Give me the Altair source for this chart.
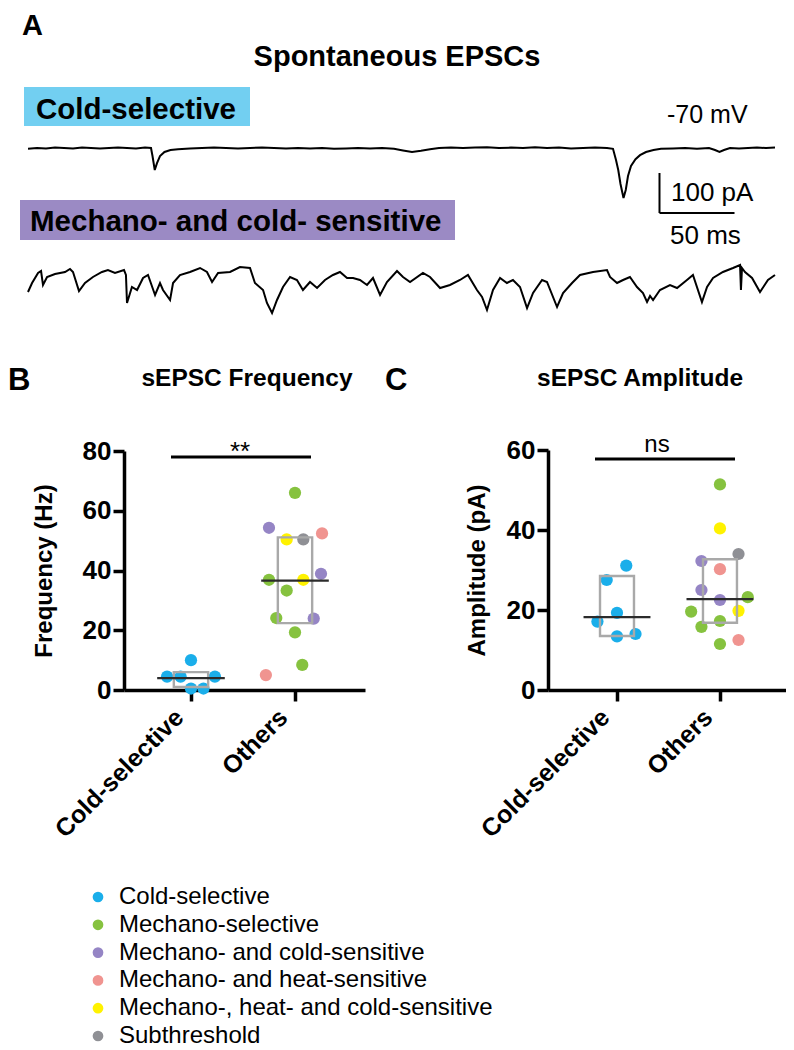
import altair as alt
import pandas as pd

FONT = "Liberation Sans"

# ---------------- data ----------------
cell_types = ["Cold-selective", "Mechano-selective", "Mechano- and cold-sensitive",
              "Mechano- and heat-sensitive", "Mechano-, heat- and cold-sensitive", "Subthreshold"]
type_colors = ["#1aaeea", "#86c23f", "#9585c5", "#f09490", "#fff200", "#8f9095"]
groups = ["Cold-selective", "Others"]

# Panel A traces (time in ms, current in pA)
trace1_t = [0, 6, 12, 18, 24, 30, 36, 42, 48, 54, 60, 66, 72, 78, 82, 83, 84.5, 86, 88, 91,
            95, 100, 108, 116, 124, 132, 140, 148, 156, 164, 172, 180, 188, 196, 204, 212, 220, 228, 236, 244,
            250, 256, 262, 268, 274, 282, 290, 298, 306, 314, 322, 330, 338, 346, 354, 362, 370, 378, 386, 390,
            392, 393.5, 395, 397, 398.5, 400, 402, 405, 408, 412, 417, 422, 430, 438, 446, 454, 458, 461, 464, 468,
            474, 480, 486, 492, 498]
trace1_v = [-2, 0, -1, 1, 0, -1, 1, 0, -1, 0, 1, 0, -1, 1, 0, -20, -55, -38, -20, -10,
            -5, -3, -1, 0, 1, 0, -1, 0, 1, 0, -1, 0, -1, 0, -2, -1, 0, -1, 0, -2,
            -6, -10, -7, -3, 0, 1, 0, 1, 2, 0, 1, 0, 2, 0, 1, -1, 0, 1, 0, -2,
            -30, -55, -90, -125, -105, -70, -45, -28, -18, -10, -5, -2, -1, 0, -2, 0, -5, -10, -5, 0,
            -1, 0, 1, 0, 1]
trace2_t = [0, 2.7, 6.7, 8.7, 10, 12.7, 18, 24.7, 28, 30,
            34, 38, 43.3, 49.3, 53.3, 58, 64, 65.3, 66, 69.3,
            72.7, 76.7, 80, 84.7, 88, 90, 94.7, 96.7, 101.3, 108,
            114.7, 119.3, 122.7, 126.7, 134.7, 141.3, 148, 151.3, 156.7, 159.3,
            162.7, 166, 170, 174.7, 179.3, 183.3, 188, 192.7, 198, 203.3,
            208, 212.7, 216.7, 221.3, 226, 230, 234.7, 239.3, 246, 250,
            254.7, 263.3, 268, 274.7, 281.3, 288, 293.3, 299.3, 302.7, 306,
            310, 314.7, 319.3, 323.3, 328, 332.7, 336.7, 342.7, 346, 352.7,
            356.7, 362.7, 368, 376.7, 386, 388, 392.7, 396.7, 401.3, 406,
            410, 412.7, 414.7, 416.7, 421.3, 428, 432.7, 439.3, 443.3, 449.3,
            452.7, 456.7, 463.3, 470, 474.7, 475.3, 476, 478, 482.7, 488,
            493.3, 498]
trace2_v = [-55, -32.5, -7.5, -2.5, -37.5, -17.5, -10, -5, 2.5, -5,
            -52.5, -32.5, -17.5, -5, 0, -7.5, 0, -12.5, -82.5, -42.5,
            -50, -20, -12.5, -62.5, -32.5, -50, -75, -32.5, -12.5, -5,
            5, -5, -30, -7.5, -5, 7.5, 5, -32.5, -50, -82.5,
            -107.5, -75, -42.5, -17.5, -25, -50, -30, -45, -25, -12.5,
            -5, -20, -20, -25, -37.5, -20, -62.5, -30, -2.5, -17.5,
            -30, -7.5, -17.5, -45, -37.5, -25, -12.5, -50, -67.5, -100,
            -50, -20, -32.5, -25, -42.5, -95, -57.5, -25, -30, -92.5,
            -57.5, -32.5, -12.5, -5, 0, -17.5, -32.5, -25, -17.5, -42.5,
            -57.5, -80, -65, -75, -50, -37.5, -45, -25, -12.5, -80,
            -42.5, -20, -5, 5, 12.5, -50, 5, -5, -20, -55,
            -25, -12.5]
scalebar_t = [421]      # start of scale bar (ms)
scalebar_v = [-62.5]    # top of scale bar (pA)
scalebar_ms = [50]
scalebar_pA = [100]

# Panel B: sEPSC frequency (Hz)
freq_group = ["Cold-selective", "Cold-selective", "Cold-selective", "Cold-selective", "Cold-selective",
              "Cold-selective", "Others", "Others", "Others", "Others", "Others", "Others", "Others",
              "Others", "Others", "Others", "Others", "Others", "Others", "Others"]
freq_value = [10, 4.5, 4.5, 4.5, 0.5, 0.5,
              66, 54.3, 52.4, 50.4, 50.4, 38.9, 36.9, 36.9, 33.3, 24.1, 23.9, 19.3, 8.4, 5]
freq_type = ["Cold-selective"] * 6 + [
    "Mechano-selective", "Mechano- and cold-sensitive", "Mechano- and heat-sensitive",
    "Mechano-, heat- and cold-sensitive", "Subthreshold", "Mechano- and cold-sensitive",
    "Mechano-selective", "Mechano-, heat- and cold-sensitive", "Mechano-selective",
    "Mechano-selective", "Mechano- and cold-sensitive", "Mechano-selective",
    "Mechano-selective", "Mechano- and heat-sensitive"]
freq_jitter = [0, -0.23, -0.1, 0.23, 0, 0.12,
               0, -0.25, 0.26, -0.08, 0.08, 0.25, -0.25, 0.08, -0.08, -0.18, 0.18, 0, 0.07, -0.28]
freq_q1 = [1, 22.4]
freq_q3 = [6, 51.1]
freq_median = [4, 36.6]

# Panel C: sEPSC amplitude (pA)
amp_group = freq_group
amp_value = [31.1, 27.5, 19.3, 17.1, 13.4, 14.0,
             51.4, 40.4, 34, 32.25, 30.2, 25, 22.5, 23.2, 19.6, 19.8, 17.25, 15.8, 11.5, 12.5]
amp_type = ["Cold-selective"] * 6 + [
    "Mechano-selective", "Mechano-, heat- and cold-sensitive", "Subthreshold",
    "Mechano- and cold-sensitive", "Mechano- and heat-sensitive", "Mechano- and cold-sensitive",
    "Mechano- and cold-sensitive", "Mechano-selective", "Mechano-selective",
    "Mechano-, heat- and cold-sensitive", "Mechano-selective", "Mechano-selective",
    "Mechano-selective", "Mechano- and heat-sensitive"]
amp_jitter = [0.09, -0.1, 0, -0.19, 0, 0.18,
              0, 0, 0.18, -0.18, 0, -0.18, 0, 0.27, -0.28, 0.18, 0, -0.18, 0, 0.18]
amp_q1 = [13.5, 16.8]
amp_q3 = [28.5, 32.7]
amp_median = [18.2, 22.7]

# ---------------- tables ----------------
trace1_df = pd.DataFrame({"t": trace1_t, "v": trace1_v})
trace2_df = pd.DataFrame({"t": trace2_t, "v": trace2_v})
bar_df = pd.DataFrame({"t": scalebar_t, "v": scalebar_v, "ms": scalebar_ms, "pA": scalebar_pA})

def points_df(g, v, ty, j):
    return pd.DataFrame({"gi": [groups.index(x) for x in g], "value": v, "type": ty, "jitter": j})

def summary_df(q1, q3, med):
    return pd.DataFrame({"gi": list(range(len(groups))), "q1": q1, "q3": q3, "median": med})

freq_pts = points_df(freq_group, freq_value, freq_type, freq_jitter)
amp_pts = points_df(amp_group, amp_value, amp_type, amp_jitter)
freq_sum = summary_df(freq_q1, freq_q3, freq_median)
amp_sum = summary_df(amp_q1, amp_q3, amp_median)

# ---------------- styling / helpers ----------------
W, H = 778, 1042
BOX_HALF = 0.165
MED_HALF = 0.325
one = alt.Data(values=[{}])

def text(txt, x, y, size, weight="normal", align="left", baseline="alphabetic"):
    return alt.Chart(one).mark_text(text=txt, font=FONT, fontSize=size, fontWeight=weight,
                                    align=align, baseline=baseline, color="black").encode(
        x=alt.value(x), y=alt.value(y))

def box(x1, x2, y1, y2, color):
    return alt.Chart(one).mark_rect(color=color).encode(
        x=alt.value(x1), x2=alt.value(x2), y=alt.value(y1), y2=alt.value(y2))

def hrule(x1, x2, y, w=3):
    return alt.Chart(one).mark_rule(color="black", strokeWidth=w).encode(
        x=alt.value(x1), x2=alt.value(x2), y=alt.value(y))

color_scale = alt.Scale(domain=cell_types, range=type_colors)
legend = alt.Legend(orient="none", legendX=78, legendY=877, title=None, labelFont=FONT,
                    labelFontSize=24, labelColor="black", symbolType="circle", symbolSize=115,
                    symbolStrokeWidth=0, symbolOpacity=1, rowPadding=3.8, labelOffset=9,
                    padding=0, labelLimit=0)

label_expr = "datum.value == 0 ? '%s' : '%s'" % (groups[0], groups[1])

def axis_common():
    return dict(grid=False, domainColor="black", domainWidth=3.5, tickColor="black", tickWidth=3.5,
                labelFont=FONT, labelFontWeight="bold", labelColor="black",
                titleFont=FONT, titleFontSize=24, titleFontWeight="bold", titleColor="black")

def scatter_panel(pts, summ, xdom, xrange, ydom, yrange, yvals, ytitle, yoffset, tpad):
    xs = alt.Scale(domain=xdom, range=xrange, nice=False, zero=False)
    ys = alt.Scale(domain=ydom, range=yrange, nice=False, zero=False)
    xaxis = alt.Axis(orient="bottom", offset=682 - H, values=[0, 1], labelExpr=label_expr,
                     labelAngle=-45, labelAlign="right", labelBaseline="middle", labelFontSize=25,
                     title=None, tickSize=11, labelPadding=12, labelOffset=-12, labelFlush=False,
                     labelLimit=400, **axis_common())
    yaxis = alt.Axis(orient="left", offset=yoffset, values=yvals, title=ytitle, tickSize=11,
                     labelFontSize=26, labelPadding=2, titlePadding=tpad, **axis_common())
    pts_layer = alt.Chart(pts).transform_calculate(pos="datum.gi + datum.jitter").mark_circle(
        size=150, opacity=1).encode(
        x=alt.X("pos:Q", scale=xs, axis=xaxis),
        y=alt.Y("value:Q", scale=ys, axis=yaxis),
        color=alt.Color("type:N", scale=color_scale, legend=legend))
    box_layer = alt.Chart(summ).transform_calculate(
        x0="datum.gi - %f" % BOX_HALF, x1="datum.gi + %f" % BOX_HALF).mark_rect(
        fillOpacity=0, stroke="#a9a9a9", strokeWidth=2.4).encode(
        x=alt.X("x0:Q", scale=xs, axis=None), x2="x1:Q",
        y=alt.Y("q1:Q", scale=ys, axis=None), y2="q3:Q")
    med_layer = alt.Chart(summ).transform_calculate(
        x0="datum.gi - %f" % MED_HALF, x1="datum.gi + %f" % MED_HALF).mark_rule(
        color="#2b2b2b", strokeWidth=2.2).encode(
        x=alt.X("x0:Q", scale=xs, axis=None), x2="x1:Q",
        y=alt.Y("median:Q", scale=ys, axis=None))
    return [pts_layer, box_layer, med_layer]

# ---------------- panel A ----------------
xt = alt.Scale(domain=[0, 498], range=[20, 767], nice=False, zero=False)
yt1 = alt.Scale(domain=[-150, 50], range=[200, 120], nice=False, zero=False)
yt2 = alt.Scale(domain=[-150, 50], range=[322, 242], nice=False, zero=False)

trace1 = alt.Chart(trace1_df).mark_line(color="black", strokeWidth=2).encode(
    x=alt.X("t:Q", scale=xt, axis=None), y=alt.Y("v:Q", scale=yt1, axis=None))
trace2 = alt.Chart(trace2_df).mark_line(color="black", strokeWidth=2).encode(
    x=alt.X("t:Q", scale=xt, axis=None), y=alt.Y("v:Q", scale=yt2, axis=None))
bar_vert = alt.Chart(bar_df).transform_calculate(v2="datum.v - datum.pA").mark_rule(
    color="black", strokeWidth=2).encode(
    x=alt.X("t:Q", scale=xt, axis=None), y=alt.Y("v:Q", scale=yt1, axis=None), y2="v2:Q")
bar_horiz = alt.Chart(bar_df).transform_calculate(
    t2="datum.t + datum.ms", vb="datum.v - datum.pA").mark_rule(
    color="black", strokeWidth=2).encode(
    x=alt.X("t:Q", scale=xt, axis=None), x2="t2:Q", y=alt.Y("vb:Q", scale=yt1, axis=None))

layers = [
    text("A", 14, 27, 29, "bold"),
    text("Spontaneous EPSCs", 389, 58, 29, "bold", align="center"),
    box(16, 242, 79, 118, "#72cff1"),
    text("Cold-selective", 28, 111, 29.5, "bold"),
    text("-70 mV", 659, 115, 25),
    trace1, bar_vert, bar_horiz,
    text("100 pA", 663, 193, 26),
    text("50 ms", 662, 236, 26),
    box(12, 447, 192, 232, "#9b8ac4"),
    text("Mechano- and cold- sensitive", 22, 223, 29.5, "bold"),
    trace2,
    # panel B / C headings
    text("B", 0, 382, 31, "bold"),
    text("sEPSC Frequency", 239, 378, 24.5, "bold", align="center"),
    text("C", 377, 382, 31, "bold"),
    text("sEPSC Amplitude", 632, 378, 24.5, "bold", align="center"),
    hrule(163, 303, 449),
    text("**", 232, 452, 26, align="center"),
    hrule(587, 727, 451),
    text("ns", 649, 444, 24, align="center"),
]
layers += scatter_panel(freq_pts, freq_sum, [-0.644, 1.673], [116, 357], [0, 80], [682, 443],
                        [0, 20, 40, 60, 80], "Frequency (Hz)", -116, 26)
layers += scatter_panel(amp_pts, amp_sum, [-0.67, 1.68], [540, 782], [0, 60], [682, 442],
                        [0, 20, 40, 60], "Amplitude (pA)", -540, 17)

chart = alt.layer(*layers).resolve_scale(x="independent", y="independent").properties(
    width=W, height=H, padding=0, autosize=alt.AutoSizeParams(type="none")
).configure_view(stroke=None)

chart.save("out.html", embed_options={"renderer": "svg", "actions": False})
